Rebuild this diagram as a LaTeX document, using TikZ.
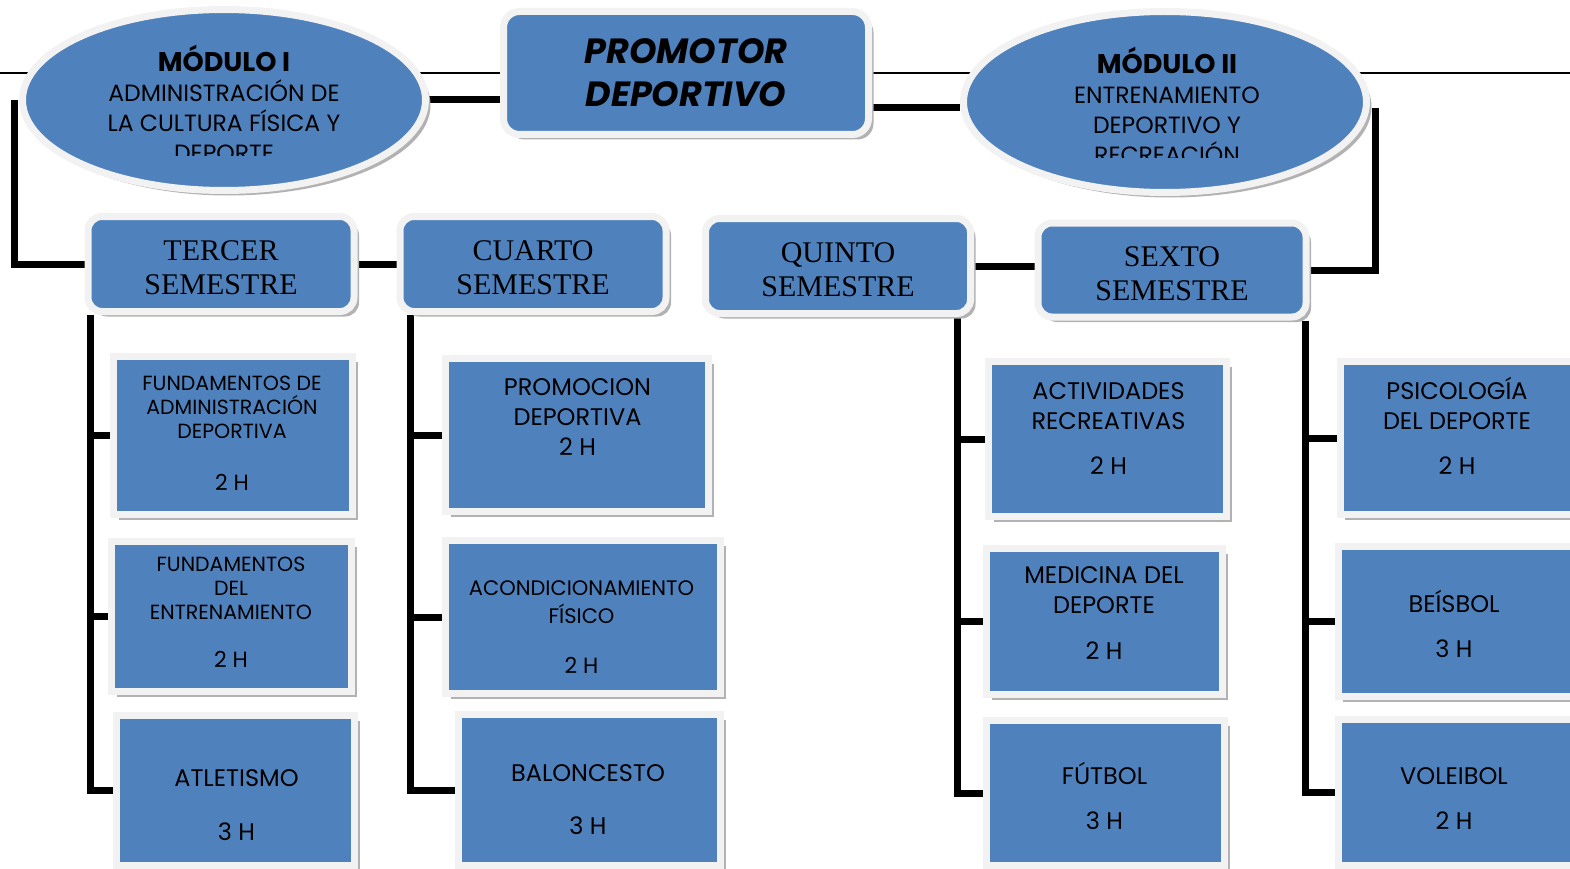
\documentclass[tikz,border=0pt]{standalone}
\usepackage{fontspec}
\setmainfont{Poppins}
\newfontfamily\semfont{Liberation Serif}
\usetikzlibrary{shapes.geometric,shadows,calc}
\definecolor{PDBlue}{HTML}{4F81BD}
\definecolor{PDRim}{HTML}{F2F2F2}
\pgfdeclarelayer{bg}
\pgfsetlayers{bg,main}
\newcommand{\hours}[1]{{\fontsize{22}{24}\selectfont #1}}
\newcommand{\semstrut}{\rule{0pt}{28pt}}
\tikzset{
  rim/.style={fill=PDBlue,draw=PDRim,line width=7pt,inner sep=0pt,
    drop shadow={shadow xshift=5pt,shadow yshift=-5pt,fill=gray!60,opacity=1}},
  modulo/.style={rim,ellipse,minimum width=403pt,minimum height=181pt},
  modtext/.style={align=center,inner sep=0pt,anchor=south,font=\fontsize{23.5}{30}\selectfont},
  semestre/.style={rim,rounded corners=14pt,minimum width=266pt,minimum height=95pt,
    align=center,font=\semfont\fontsize{30}{34}\selectfont},
  course/.style={rim},
  bigtext/.style={align=center,inner sep=0pt,anchor=south,font=\fontsize{24}{30}\selectfont},
  smalltext/.style={bigtext,font=\fontsize{20.5}{24}\selectfont},
  link/.style={line width=7pt},
  headline/.style={line width=1.6pt}
}
\begin{document}
\begin{tikzpicture}[x=1pt,y=-1pt]
  \useasboundingbox (0,0) rectangle (1570,869);

  % modules and title
  \node[modulo] (mod1) at (224,100) {};
  \begin{scope}
    \clip (0,0) rectangle (1570,156);
    \node[modtext] (mod1txt) at (224,162)
      {{\bfseries\fontsize{27}{30}\selectfont MÓDULO I}\\ADMINISTRACIÓN DE\\LA CULTURA FÍSICA Y\\DEPORTE};
  \end{scope}
  \node[modulo] (mod2) at (1165,102) {};
  \begin{scope}
    \clip (0,0) rectangle (1570,158);
    \node[modtext] (mod2txt) at (1167,164)
      {{\bfseries\fontsize{27}{30}\selectfont MÓDULO II}\\ENTRENAMIENTO\\DEPORTIVO Y\\RECREACIÓN};
  \end{scope}
  \node[rim,rounded corners=16pt,minimum width=365pt,minimum height=123pt,align=center,
    font=\bfseries\itshape\fontsize{35}{43}\selectfont] (prom) at (686,73) {PROMOTOR\\DEPORTIVO};

  % semesters
  \node[semestre] (tercero) at (221,264) {\semstrut TERCER\\SEMESTRE};
  \node[semestre] (cuarto) at (533,264) {\semstrut CUARTO\\SEMESTRE};
  \node[semestre,minimum width=265pt] (quinto) at (838,266) {\semstrut QUINTO\\SEMESTRE};
  \node[semestre,minimum width=268pt,minimum height=94pt] (sexto) at (1172,270) {\semstrut SEXTO\\SEMESTRE};

  % courses
  \node[course,minimum width=239pt,minimum height=158pt] (c11) at (233,435.5) {};
  \node[course,minimum width=240pt,minimum height=150pt] (c12) at (231.5,616.5) {};
  \node[course,minimum width=238pt,minimum height=150pt] (c13) at (235.5,790.5) {};
  \node[course,minimum width=263pt,minimum height=153pt] (c21) at (577,435) {};
  \node[course,minimum width=275pt,minimum height=153pt] (c22) at (583,617) {};
  \node[course,minimum width=262pt,minimum height=151pt] (c23) at (589.5,790) {};
  \node[course,minimum width=238pt,minimum height=155pt] (c31) at (1107.5,439) {};
  \node[course,minimum width=236pt,minimum height=146pt] (c32) at (1104.5,621.5) {};
  \node[course,minimum width=238pt,minimum height=145pt] (c33) at (1105.5,793) {};
  \node[course,minimum width=235pt,minimum height=153pt] (c41) at (1457.75,438) {};
  \node[course,minimum width=237pt,minimum height=150pt] (c42) at (1456.75,621.5) {};
  \node[course,minimum width=237pt,minimum height=146pt] (c43) at (1456.75,792.5) {};

  \node[smalltext] (t11) at (232,490.5) {FUNDAMENTOS DE\\ADMINISTRACIÓN\\DEPORTIVA\\[27.5pt]\hours{2 H}};
  \node[smalltext] (t12) at (231,667.5) {FUNDAMENTOS\\DEL\\ENTRENAMIENTO\\[23.5pt]\hours{2 H}};
  \node[bigtext] (t13) at (236.5,840.5) {ATLETISMO\\[24pt]3 H};
  \node[bigtext] (t21) at (577.5,455.5) {PROMOCION\\DEPORTIVA\\2 H};
  \node[smalltext,font=\fontsize{21}{24}\selectfont] (t22) at (581.5,673.5)
    {ACONDICIONAMIENTO\\[4pt]FÍSICO\\[25.5pt]\hours{2 H}};
  \node[bigtext] (t23) at (588,834.5) {BALONCESTO\\[23pt]3 H};
  \node[bigtext] (t31) at (1108.5,474.5) {ACTIVIDADES\\RECREATIVAS\\[15pt]2 H};
  \node[bigtext] (t32) at (1104,659.5) {MEDICINA DEL\\DEPORTE\\[16pt]2 H};
  \node[bigtext] (t33) at (1104.5,829.5) {FÚTBOL\\[15pt]3 H};
  \node[bigtext] (t41) at (1457,474.5) {PSICOLOGÍA\\DEL DEPORTE\\[15pt]2 H};
  \node[bigtext] (t42) at (1454,657.5) {BEÍSBOL\\[15pt]3 H};
  \node[bigtext] (t43) at (1454,829.5) {VOLEIBOL\\[15pt]2 H};

  \coordinate (s1) at ($(tercero.south west)+(5.5,0)$);
  \coordinate (s2) at ($(cuarto.south west)+(14,0)$);
  \coordinate (s3) at ($(quinto.south east)+(-17,0)$);
  \coordinate (s4) at ($(sexto.south east)+(-4,0)$);

  \begin{pgfonlayer}{bg}
    \draw[headline] (0,73) -- (1570,73);
    \draw[link] (mod1.east) -- (mod1.east -| prom.west);
    \draw[link] ([yshift=-6pt]mod2.west) -- ([yshift=-6pt]mod2.west -| prom.east);
    \draw[link] (mod1.west) ++(-5,0) |- (tercero.west);
    \draw[link] (mod2.east) ++(5,6) |- (sexto.east);
    \draw[link] (tercero.east) -- (cuarto.west);
    \draw[link] (quinto.east) -- (quinto.east -| sexto.west);
    % spines
    \draw[link] (s1) |- (c13.west);
    \draw[link] (c11.west -| s1) -- (c11.west);
    \draw[link] (c12.west -| s1) -- (c12.west);
    \draw[link] (s2) |- (c23.west);
    \draw[link] (c21.west -| s2) -- (c21.west);
    \draw[link] (c22.west -| s2) -- (c22.west);
    \draw[link] (s3) |- (c33.west);
    \draw[link] (c31.west -| s3) -- (c31.west);
    \draw[link] (c32.west -| s3) -- (c32.west);
    \draw[link] (s4) |- (c43.west);
    \draw[link] (c41.west -| s4) -- (c41.west);
    \draw[link] (c42.west -| s4) -- (c42.west);
  \end{pgfonlayer}
\end{tikzpicture}
\end{document}
